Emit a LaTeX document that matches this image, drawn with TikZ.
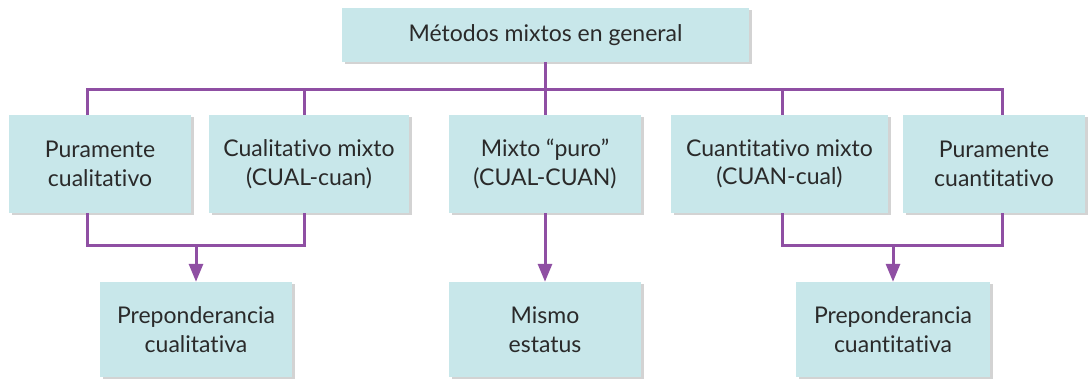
\documentclass[tikz,border=0pt]{standalone}
\usepackage{fontspec}
\setmainfont{Lato}[Ligatures={NoCommon,NoContextual}]
\usepackage{xcolor}
\usepackage{tikz}
\usetikzlibrary{arrows.meta, calc, shadows}

\definecolor{boxfill}{HTML}{C8E7EA}
\definecolor{linkpurple}{HTML}{8F4FA3}
\definecolor{textgray}{HTML}{2A2A2A}

\tikzset{
  box/.style={fill=boxfill, text=textgray, align=center, inner sep=0pt,
    font=\fontsize{23}{28.5}\selectfont,
    drop shadow={shadow xshift=2.5pt, shadow yshift=-2.5pt, opacity=0.35, fill=gray}},
  link/.style={draw=linkpurple, line width=3pt},
  arrow/.style={link, -{Triangle[length=18pt, width=14pt]}}
}

\begin{document}
\begin{tikzpicture}[x=1pt, y=1pt]
    \useasboundingbox (0,0) rectangle (1088,-379);

    % Top box
    \node[box, minimum width=407pt, minimum height=54pt] (top) at (545.5,-35) {Métodos mixtos en general};

    % Middle row
    \node[box, minimum width=182pt, minimum height=98pt] (b1) at (100,-164) {Puramente\\cualitativo};
    \node[box, minimum width=200pt, minimum height=98pt] (b2) at (309,-164) {Cualitativo mixto\\(CUAL-cuan)};
    \node[box, minimum width=192pt, minimum height=98pt] (b3) at (545,-164) {Mixto “puro”\\(CUAL-CUAN)};
    \node[box, minimum width=217pt, minimum height=98pt] (b4) at (779.5,-164) {Cuantitativo mixto\\(CUAN-cual)};
    \node[box, minimum width=182pt, minimum height=98pt] (b5) at (994,-164) {Puramente\\cuantitativo};

    % Bottom row
    \node[box, minimum width=192pt, minimum height=95pt] (c1) at (196,-329.5) {Preponderancia\\cualitativa};
    \node[box, minimum width=192pt, minimum height=95pt] (c2) at (545,-329.5) {Mismo\\estatus};
    \node[box, minimum width=194pt, minimum height=95pt] (c3) at (893,-329.5) {Preponderancia\\cuantitativa};

    % Bus junctions
    \coordinate (j1) at (87,-90);
    \coordinate (j2) at (304.5,-90);
    \coordinate (j4) at (782,-90);
    \coordinate (j5) at (1002,-90);
    \coordinate (k1) at (87,-246);
    \coordinate (k2) at (304.5,-246);
    \coordinate (k4) at (782,-246);
    \coordinate (k5) at (1002,-246);

    % Links from the top
    \draw[link] (top.south) -- (top.south |- b3.north);
    \draw[link] (j1 |- b1.north) -- (j1) -- (j5) -- (j5 |- b5.north);
    \draw[link] (j2) -- (j2 |- b2.north);
    \draw[link] (j4) -- (j4 |- b4.north);

    % Brackets and arrows to the bottom
    \draw[link] (j1 |- b1.south) -- (k1) -- (k2) -- (j2 |- b2.south);
    \draw[link] (j4 |- b4.south) -- (k4) -- (k5) -- (j5 |- b5.south);
    \draw[arrow] (k1 -| c1) -- (c1.north);
    \draw[arrow] (b3.south) -- (c2.north);
    \draw[arrow] (k4 -| c3) -- (c3.north);
\end{tikzpicture}
\end{document}
